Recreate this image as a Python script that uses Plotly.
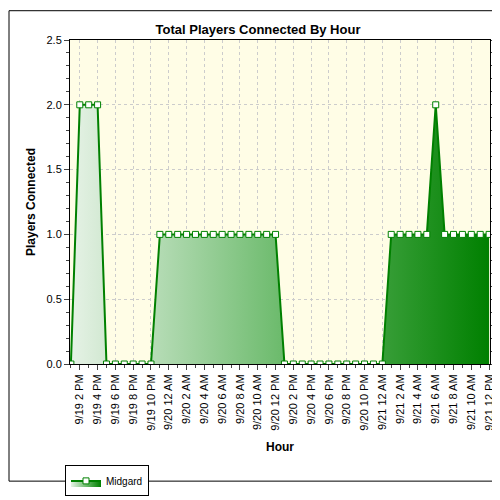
import plotly.graph_objects as go

# Stunden von 9/19 1 PM bis 9/21 12 PM
hours = []
for day in ["9/19", "9/20", "9/21"]:
    for h in range(24):
        hh = h % 12 or 12
        ap = "AM" if h < 12 else "PM"
        hours.append(f"{day} {hh} {ap}")
hours = hours[13:13 + 48]

players = ([0] + [2] * 3 + [0] * 6 + [1] * 14 + [0] * 12
           + [1] * 5 + [2] + [1] * 6)

tick_labels = hours[1::2]

fig = go.Figure()
fig.add_trace(go.Scatter(
    x=hours, y=players, name="Midgard", mode="lines+markers",
    line=dict(color="#008000", width=2),
    marker=dict(symbol="square", size=6, color="white",
                line=dict(color="#008000", width=1)),
    fill="tozeroy",
    fillgradient=dict(type="horizontal",
                      colorscale=[[0, "#e6f2e6"], [0.5, "#6dbb6d"], [1, "#008000"]]),
))

L, R, T, B = 62, 18, 32, 125
W, H = 500 - L - R, 500 - T - B
fig.update_layout(
    width=500, height=500,
    margin=dict(l=L, r=R, t=T, b=B),
    paper_bgcolor="white", plot_bgcolor="#fffde6",
    font=dict(family="Liberation Sans, Arial", size=11, color="black"),
    title=dict(text="<b>Total Players Connected By Hour</b>", x=0.5, y=0.967,
               xanchor="center", font=dict(size=13)),
    xaxis=dict(type="category", tickmode="array", tickvals=tick_labels, ticktext=tick_labels,
               tickangle=-90, ticks="outside", ticklen=5, showline=True, automargin=False,
               linecolor="black", linewidth=1, mirror=True, showgrid=True,
               gridcolor="#cccccc", griddash="dot", range=[-0.1, 47.1],
               minor=dict(ticks="outside", ticklen=3, tickvals=hours),
               title=dict(text="<b>Hour</b>", font=dict(size=12), standoff=12)),
    yaxis=dict(range=[0, 2.5], dtick=0.5, tickformat=".1f", ticks="outside", ticklen=5,
               showline=True, linecolor="black", linewidth=1, mirror="allticks",
               automargin=False, showgrid=True, gridcolor="#cccccc", griddash="dot",
               zeroline=False, minor=dict(dtick=0.1, ticks="outside", ticklen=3),
               title=dict(text="<b>Players Connected</b>", font=dict(size=12), standoff=8)),
    showlegend=True,
    legend=dict(x=-5 / W, y=-(B - 100) / H - 0.24, xanchor="left", yanchor="top",
                bordercolor="black", borderwidth=1, bgcolor="white",
                font=dict(size=10), itemwidth=30),
    shapes=[dict(type="rect", xref="paper", yref="paper",
                 x0=-(L - 1) / W, x1=1 + (R - 1) / W,
                 y0=-(B - 1) / H, y1=1 + (T - 1) / H,
                 line=dict(color="black", width=1))],
)

fig.write_html("out.html")
